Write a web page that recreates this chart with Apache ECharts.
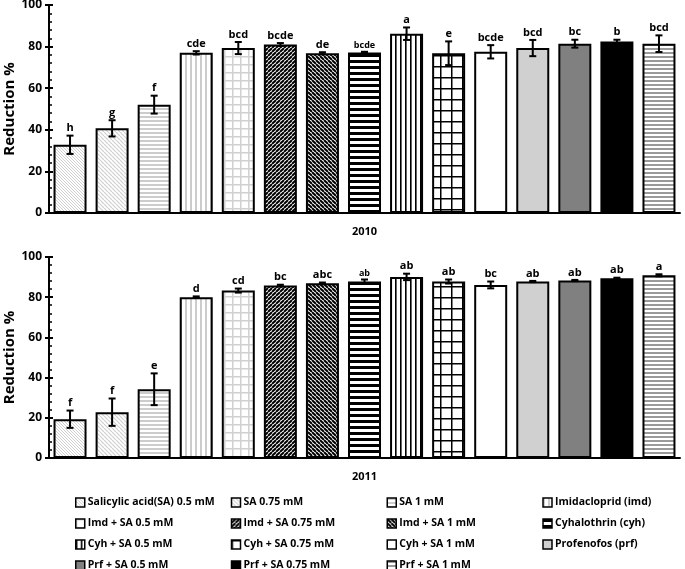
<!DOCTYPE html>
<html><head><meta charset="utf-8">
<script src="https://cdn.jsdelivr.net/npm/echarts@6/dist/echarts.min.js"></script>
<style>html,body{margin:0;padding:0;background:#fff}#c{width:685px;height:569px}</style>
</head><body><div id="c"></div>
<script>
const categories = ['Salicylic acid(SA) 0.5 mM','SA 0.75 mM','SA 1 mM','Imidacloprid (imd)',
  'Imd + SA 0.5 mM','Imd + SA 0.75 mM','Imd + SA 1 mM','Cyhalothrin (cyh)',
  'Cyh + SA 0.5 mM','Cyh + SA 0.75 mM','Cyh + SA 1 mM','Profenofos (prf)',
  'Prf + SA 0.5 mM','Prf + SA 0.75 mM','Prf + SA 1 mM'];
const mean2010 = [32.8, 40.7, 52.1, 77.0, 79.3, 81.0, 76.8, 77.2, 86.2, 76.8, 77.5, 79.3, 81.4, 82.5, 81.4];
const err2010  = [4.4, 3.9, 4.3, 0.8, 2.9, 0.7, 0.5, 0.3, 3.0, 5.7, 3.2, 3.9, 1.9, 0.8, 4.0];
const letters2010 = ['h','g','f','cde','bcd','bcde','de','bcde','a','e','bcde','bcd','bc','b','bcd'];
const mean2011 = [19.3, 22.8, 34.2, 80.0, 83.3, 85.8, 86.9, 87.8, 90.1, 87.8, 86.1, 87.8, 88.3, 89.4, 90.9];
const err2011  = [4.3, 6.8, 7.9, 0.4, 1.0, 0.4, 0.4, 1.0, 1.6, 1.0, 1.7, 0.3, 0.3, 0.3, 0.5];
const letters2011 = ['f','f','e','d','cd','bc','abc','ab','ab','ab','bc','ab','ab','ab','a'];
const yTicks = [0, 20, 40, 60, 80, 100];
const years = ['2010', '2011'];

// style-only config
const smallLabels = [[7], [7]];
const FONT = '"Open Sans", sans-serif';

function tile(w, h, draw) {
  const c = document.createElement('canvas'); c.width = w; c.height = h;
  const ctx = c.getContext('2d'); ctx.fillStyle = '#fff'; ctx.fillRect(0, 0, w, h);
  draw(ctx, w, h); return { image: c, repeat: 'repeat' };
}
function diag(s, col, lw, dir) {
  return tile(s, s, (ctx) => {
    ctx.strokeStyle = col; ctx.lineWidth = lw; ctx.beginPath();
    for (const k of [-s, 0, s]) {
      if (dir > 0) { ctx.moveTo(k, s); ctx.lineTo(k + s, 0); }
      else { ctx.moveTo(k, 0); ctx.lineTo(k + s, s); }
    }
    ctx.stroke();
  });
}
function hlines(s, col, lw) { return tile(s, s, (ctx) => { ctx.fillStyle = col; ctx.fillRect(0, 0, s, lw); }); }
function vlines(s, col, lw) { return tile(s, s, (ctx) => { ctx.fillStyle = col; ctx.fillRect(0, 0, lw, s); }); }
function grid(s, col, lw) { return tile(s, s, (ctx) => { ctx.fillStyle = col; ctx.fillRect(0, 0, lw, s); ctx.fillRect(0, 0, s, lw); }); }

const fills = [
  diag(3, '#cfcfcf', 1, -1),
  diag(4, '#cfcfcf', 1.2, -1),
  hlines(4, '#cccccc', 2),
  vlines(5, '#cccccc', 2),
  grid(8, '#d0d0d0', 1.5),
  diag(4, '#000', 2, 1),
  diag(4, '#000', 2, -1),
  hlines(6, '#000', 3),
  vlines(5, '#000', 1.6),
  grid(11, '#000', 1.5),
  '#ffffff',
  '#d0d0d0',
  '#808080',
  '#000000',
  hlines(4, '#9a9a9a', 2)
];

const grids = [
  { left: 49, top: 5, width: 631, height: 208, outerBoundsMode: 'none', containLabel: false },
  { left: 49, top: 257, width: 631, height: 201, outerBoundsMode: 'none', containLabel: false }
];

const xAxes = [], yAxes = [], series = [];
const means = [mean2010, mean2011], errs = [err2010, err2011], letters = [letters2010, letters2011];
grids.forEach((g, gi) => {
  xAxes.push({
    type: 'category', gridIndex: gi, data: categories,
    axisLine: { lineStyle: { color: '#000', width: 2 } },
    axisTick: { show: false }, axisLabel: { show: false },
    name: years[gi], nameLocation: 'middle', nameGap: 13, nameMoveOverlap: false,
    nameTextStyle: { fontFamily: FONT, fontWeight: 'bold', fontSize: 11, color: '#000' }
  });
  yAxes.push({
    type: 'value', gridIndex: gi, min: yTicks[0], max: yTicks[yTicks.length - 1], interval: yTicks[1] - yTicks[0],
    splitLine: { show: false },
    axisLine: { show: true, lineStyle: { color: '#000', width: 2 } },
    axisTick: { show: true, length: 4, lineStyle: { color: '#000', width: 2 } },
    axisLabel: { fontFamily: FONT, fontWeight: 'bold', fontSize: 12, color: '#000', margin: 7 },
    name: 'Reduction %', nameLocation: 'middle', nameGap: 32, nameMoveOverlap: false,
    nameTextStyle: { fontFamily: FONT, fontWeight: 'bold', fontSize: 15, color: '#000' }
  });
  yAxes.push({
    type: 'value', gridIndex: gi, min: yTicks[0], max: yTicks[yTicks.length - 1], interval: yTicks[1] - yTicks[0],
    position: 'left', splitLine: { show: false },
    axisLine: { show: false }, axisLabel: { show: false },
    axisTick: { show: true, inside: true, length: 4, lineStyle: { color: '#000', width: 2 } },
    minorTick: { show: true, splitNumber: 5, length: 3, lineStyle: { color: '#000', width: 1.5 } }
  });
  categories.forEach((name, i) => {
    series.push({
      type: 'bar', name, xAxisIndex: gi, yAxisIndex: gi * 2,
      barWidth: 33, barGap: '-100%',
      data: means[gi].map((v, j) => (j === i ? v : '-')),
      itemStyle: { color: fills[i], borderColor: '#000', borderWidth: 2 },
      emphasis: { disabled: true }, animation: false
    });
  });
  series.push({
    type: 'custom', xAxisIndex: gi, yAxisIndex: gi * 2, animation: false, z: 10,
    data: means[gi].map((v, j) => [j, v, errs[gi][j]]),
    renderItem: (params, api) => {
      const i = api.value(0), m = api.value(1), e = api.value(2);
      const t = api.coord([i, m + e]), b = api.coord([i, m - e]);
      const x = t[0], cw = 3.5;
      const st = { stroke: '#000', lineWidth: 2 };
      const small = smallLabels[gi].indexOf(params.dataIndex) >= 0;
      return {
        type: 'group', children: [
          { type: 'line', shape: { x1: x, y1: t[1], x2: x, y2: b[1] }, style: st },
          { type: 'line', shape: { x1: x - cw, y1: t[1], x2: x + cw, y2: t[1] }, style: st },
          { type: 'line', shape: { x1: x - cw, y1: b[1], x2: x + cw, y2: b[1] }, style: st },
          { type: 'text', x: x, y: t[1] - 2, style: {
            text: letters[gi][params.dataIndex], fill: '#000', align: 'center', verticalAlign: 'bottom',
            font: 'bold ' + (small ? 9 : 11) + 'px ' + FONT } }
        ]
      };
    }
  });
});

const chart = echarts.init(document.getElementById('c'), null, { renderer: 'canvas' });
chart.setOption({
  animation: false, backgroundColor: '#fff',
  grid: grids, xAxis: xAxes, yAxis: yAxes, series,
  legend: {
    orient: 'horizontal', left: 75, top: 492, width: 630, padding: 0, itemGap: 0,
    itemWidth: 9, itemHeight: 9, icon: 'rect', selectedMode: false,
    itemStyle: { borderColor: '#000', borderWidth: 1.5 },
    textStyle: { fontFamily: FONT, fontWeight: 'bold', fontSize: 10.5, color: '#000',
      lineHeight: 21, width: 143, overflow: 'none', padding: [0, 0, 0, -2] },
    data: categories
  }
});
</script></body></html>
